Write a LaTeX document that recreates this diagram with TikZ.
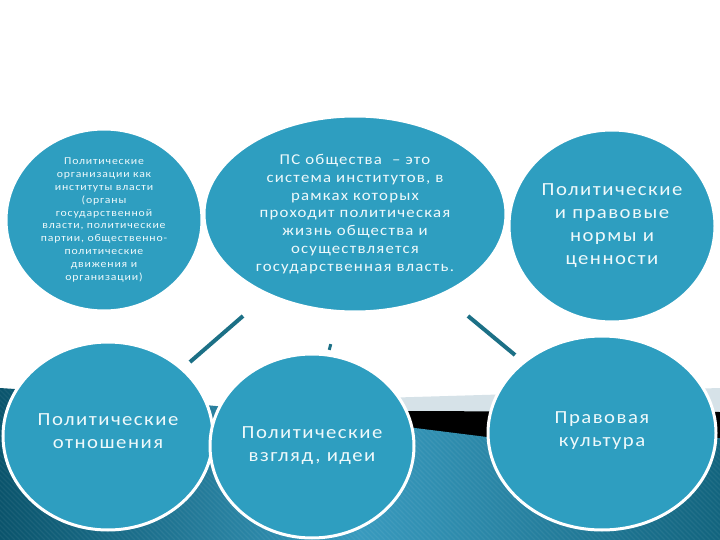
\documentclass[tikz,border=0pt]{standalone}
\usepackage{fontspec}
\setmainfont{Carlito}[FakeStretch=1.12, LetterSpace=8]
\usetikzlibrary{shapes.geometric}
\definecolor{circ}{RGB}{46,158,192}
\definecolor{txt}{RGB}{238,249,251}
\definecolor{linkc}{RGB}{28,112,134}
\definecolor{deepteal}{RGB}{10,84,108}
\definecolor{midteal}{RGB}{56,154,190}
\definecolor{rightteal}{RGB}{18,100,126}
\definecolor{bandgray}{RGB}{214,226,232}
\begin{document}
\begin{tikzpicture}[x=1pt,y=-1pt,
  bubble/.style={ellipse, fill=circ, draw=white, line width=3pt, text=txt, align=center, inner sep=0pt},
  small/.style={font=\fontsize{10.5}{12.8}\selectfont},
  medium/.style={font=\fontsize{15}{17.8}\selectfont},
  large/.style={font=\fontsize{18.5}{23}\selectfont},
  linkline/.style={draw=linkc, line width=4pt},
  dot/.style={fill=linkc, inner sep=0pt}
  ]
\useasboundingbox (0,0) rectangle (720,540);
\fill[white] (0,0) rectangle (720,540);
% background wave
\fill[bandgray] (380,398) -- (720,388) -- (720,425) -- (380,416);
\fill[black] (380,411) -- (720,412) -- (720,480) -- (380,445);
\shade[left color=deepteal, right color=rightteal, middle color=midteal] (0,388) .. controls (150,398) and (300,414) .. (415,428) -- (487,437) .. controls (600,450) and (690,440) .. (720,438) -- (720,540) -- (0,540);
\begin{scope}
  \clip (0,388) .. controls (150,398) and (300,414) .. (415,428) -- (487,437) .. controls (600,450) and (690,440) .. (720,438) -- (720,540) -- (0,540);
  \foreach \i in {-200,-195,...,720}
    \draw[white, opacity=0.06, line width=1.4pt] (\i,380) -- (\i+160,540);
\end{scope}
% connectors
\coordinate (l1a) at (190,362);
\coordinate (l1b) at (243,316);
\coordinate (l2a) at (468,316);
\coordinate (l2b) at (515,355);
\draw[linkline] (l1a) -- (l1b);
\draw[linkline] (l2a) -- (l2b);
\node[dot, minimum size=4pt] (sq) at (204,217) {};
\node[dot, minimum width=3pt, minimum height=6pt, rotate=-15] (tick) at (330,347) {};
% bubbles
\node[bubble, small, minimum width=196pt, minimum height=182pt] (org) at (104,220)
  {Политические\\организации как\\институты власти\\(органы\\государственной\\власти, политические\\партии, общественно-\\политические\\движения и\\организации)};
\node[bubble, medium, minimum width=302pt, minimum height=196pt] (ps) at (355,214)
  {ПС общества \ – это\\система институтов, в\\рамках которых\\проходит политическая\\жизнь общества и\\осуществляется\\государственная власть.};
\node[bubble, large, minimum width=206pt, minimum height=192pt] (norm) at (612,226)
  {Политические\\и правовые\\нормы и\\ценности};
\node[bubble, large, minimum width=210pt, minimum height=188pt] (otn) at (108,436)
  {Политические\\отношения\\[-13pt]};
\node[bubble, large, minimum width=204pt, minimum height=184pt] (vzg) at (312,446)
  {Политические\\взгляд, идеи};
\node[bubble, large, minimum width=228pt, minimum height=194pt] (kult) at (602,433)
  {Правовая\\культура\\[-16pt]};
\end{tikzpicture}
\end{document}
